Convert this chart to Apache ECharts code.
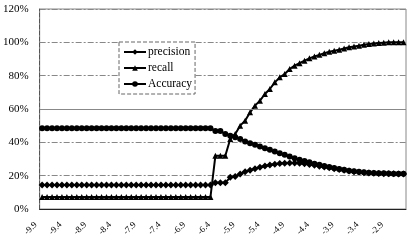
<!DOCTYPE html>
<html><head><meta charset="utf-8">
<script src="https://cdn.jsdelivr.net/npm/echarts@6/dist/echarts.min.js"></script>
<style>html,body{margin:0;padding:0;background:#fff}#c{width:414px;height:244px}</style>
</head><body><div id="c"></div>
<script>
var categories = ["-9.9","-9.8","-9.7","-9.6","-9.5","-9.4","-9.3","-9.2","-9.1","-9.0",
"-8.9","-8.8","-8.7","-8.6","-8.5","-8.4","-8.3","-8.2","-8.1","-8.0",
"-7.9","-7.8","-7.7","-7.6","-7.5","-7.4","-7.3","-7.2","-7.1","-7.0",
"-6.9","-6.8","-6.7","-6.6","-6.5","-6.4","-6.3","-6.2","-6.1","-6.0",
"-5.9","-5.8","-5.7","-5.6","-5.5","-5.4","-5.3","-5.2","-5.1","-5.0",
"-4.9","-4.8","-4.7","-4.6","-4.5","-4.4","-4.3","-4.2","-4.1","-4.0",
"-3.9","-3.8","-3.7","-3.6","-3.5","-3.4","-3.3","-3.2","-3.1","-3.0",
"-2.9","-2.8","-2.7","-2.6"];
var precision = [14.4,14.4,14.4,14.4,14.4,14.4,14.4,14.4,14.4,14.4,
14.4,14.4,14.4,14.4,14.4,14.4,14.4,14.4,14.4,14.4,
14.4,14.4,14.4,14.4,14.4,14.4,14.4,14.4,14.4,14.4,
14.4,14.4,14.4,14.4,14.4,15.8,15.8,15.8,19,19.5,
21,22.3,23.3,24.2,25,25.8,26.4,26.9,27.3,27.5,
27.6,27.6,27.4,27.1,26.7,26.2,25.7,25.2,24.7,24.2,
23.7,23.2,22.8,22.4,22.1,21.8,21.6,21.4,21.3,21.2,
21.1,21.1,21,21];
var recall = [7.2,7.2,7.2,7.2,7.2,7.2,7.2,7.2,7.2,7.2,
7.2,7.2,7.2,7.2,7.2,7.2,7.2,7.2,7.2,7.2,
7.2,7.2,7.2,7.2,7.2,7.2,7.2,7.2,7.2,7.2,
7.2,7.2,7.2,7.2,7.2,32,32,32,42,45,
50,53,58,62,65,69,72,76,79,81,
84,86,87.5,89,90.4,91.5,92.5,93.5,94.3,95,
95.6,96.3,97,97.5,98,98.5,99,99.3,99.6,99.8,
100,100,100,100];
var accuracy = [48.4,48.4,48.4,48.4,48.4,48.4,48.4,48.4,48.4,48.4,
48.4,48.4,48.4,48.4,48.4,48.4,48.4,48.4,48.4,48.4,
48.4,48.4,48.4,48.4,48.4,48.4,48.4,48.4,48.4,48.4,
48.4,48.4,48.4,48.4,48.4,46.8,46.8,45,44,43,
42,40.5,39.5,38.5,37.5,36.5,35.5,34.5,33.5,32.5,
31.5,30.5,29.6,28.8,28,27.2,26.5,25.8,25.2,24.6,
24,23.5,23,22.6,22.3,22,21.8,21.6,21.5,21.4,
21.3,21.2,21.2,21.1];
var yTicks = [0,20,40,60,80,100,120];

var font = "'Liberation Serif', 'DejaVu Serif', serif";
var chart = echarts.init(document.getElementById('c'), null, {renderer:'canvas'});
function mk(name, data, symbol, size){
  return {name:name, type:'line', data:data, symbol:symbol, symbolSize:size,
    showAllSymbol:true, animation:false,
    lineStyle:{color:'#000', width:2}, itemStyle:{color:'#000'}};
}
var s1 = mk('precision', precision, 'diamond', 7);
var s2 = mk('recall', recall, 'triangle', 6);
var s3 = mk('Accuracy', accuracy, 'circle', 6);
s3.markLine = {silent:true, symbol:'none', label:{show:false}, animation:false,
  lineStyle:{color:'#888', type:'solid', width:1}, data:[{yAxis:yTicks[3]}]};
chart.setOption({
  animation:false,
  backgroundColor:'#fff',
  grid:{left:32, right:8, top:9, bottom:35, show:true, borderColor:'#888', borderWidth:1, backgroundColor:'transparent'},
  legend:{
    left:119, top:42, orient:'vertical', itemGap:4, itemWidth:22, itemHeight:7,
    backgroundColor:'#fff', borderColor:'#666', borderWidth:1, borderType:'dashed',
    padding:[4,3,4,4],
    textStyle:{fontFamily:font, fontSize:11.5, color:'#000', padding:[0,0,0,-3]},
    data:['precision','recall','Accuracy']
  },
  xAxis:{type:'category', data:categories, boundaryGap:true,
    axisLine:{lineStyle:{color:'#222', width:1}}, axisTick:{show:false},
    axisLabel:{interval:4, rotate:45, fontFamily:font, fontSize:9, color:'#000', margin:8,
      formatter:function(v){ return v + '\u2002\u2002'; }},
    splitLine:{show:false}},
  yAxis:{type:'value', min:yTicks[0], max:yTicks[6], interval:20,
    axisLine:{show:true, lineStyle:{color:'#555', type:'dashed'}}, axisTick:{show:false},
    axisLabel:{formatter:'{value}%', fontFamily:font, fontSize:11, color:'#000', margin:11},
    splitLine:{lineStyle:{color:'#888', type:[6,2,2,2], width:1}}},
  series:[s1, s2, s3]
});
</script></body></html>
